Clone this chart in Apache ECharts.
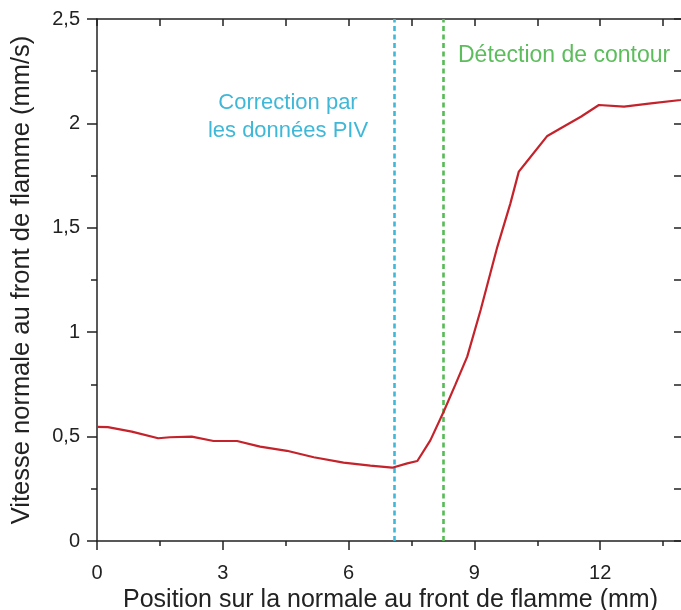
<!DOCTYPE html>
<html>
<head>
<meta charset="utf-8">
<title>Vitesse normale au front de flamme</title>
<script src="https://cdn.jsdelivr.net/npm/echarts@6/dist/echarts.min.js"></script>
<style>
  html, body { margin: 0; padding: 0; background: #fff; }
  #chart { width: 681px; height: 610px; }
</style>
</head>
<body>
<div id="chart"></div>
<script>
// Position along the normal to the flame front (mm)
const positions = [0, 0.26, 0.83, 1.46, 1.74, 2.26, 2.78, 3.34, 3.89, 4.53, 5.17, 5.88, 6.52, 7.04,
  7.40, 7.64, 7.95, 8.27, 8.55, 8.83, 9.15, 9.55, 9.86, 10.06, 10.22, 10.74, 11.06, 11.54, 11.97,
  12.57, 13.21, 13.92, 14];
// Normal velocity at the flame front (mm/s)
const velocities = [0.547, 0.545, 0.524, 0.492, 0.497, 0.500, 0.479, 0.479, 0.452, 0.432, 0.401, 0.375, 0.361, 0.351,
  0.372, 0.383, 0.482, 0.620, 0.750, 0.883, 1.106, 1.410, 1.617, 1.769, 1.809, 1.940, 1.977, 2.032, 2.088,
  2.080, 2.096, 2.112, 2.115];

// Positions of the two flame-front estimates (mm)
const piVCorrection = 7.08;
const contourDetection = 8.25;

const xTicks = { min: 0, max: 14, interval: 3 };
const yTicks = { min: 0, max: 2.5, interval: 0.5 };

const FONT = '"Liberation Sans", Arial, sans-serif';
const AXIS_COLOR = '#222';
const CYAN = '#3fb8d8';
const GREEN = '#55bb55';

const chart = echarts.init(document.getElementById('chart'), null, { renderer: 'canvas' });

const frenchDecimal = v => String(v).replace('.', ',');

const option = {
  backgroundColor: '#fff',
  animation: false,
  textStyle: { fontFamily: FONT },
  // the right-hand frame edge (x = 14) sits just past the canvas border
  grid: { left: 97, top: 19, width: 587, bottom: 69, containLabel: false, outerBoundsMode: 'none' },
  xAxis: [
    {
      type: 'value', position: 'bottom',
      min: xTicks.min, max: xTicks.max, interval: xTicks.interval,
      name: 'Position sur la normale au front de flamme (mm)',
      nameLocation: 'middle', nameGap: 42,
      nameTextStyle: { fontSize: 25, color: AXIS_COLOR, fontFamily: FONT },
      axisLine: { show: true, onZero: false, lineStyle: { color: AXIS_COLOR, width: 1.5 } },
      axisTick: { show: true, inside: false, length: 9, lineStyle: { color: AXIS_COLOR, width: 1.5 } },
      minorTick: { show: true, splitNumber: 2, length: 5, lineStyle: { color: AXIS_COLOR, width: 1.5 } },
      axisLabel: { fontSize: 20, color: AXIS_COLOR, margin: 22, showMaxLabel: false, formatter: frenchDecimal },
      splitLine: { show: false }
    },
    {
      type: 'value', position: 'top',
      min: xTicks.min, max: xTicks.max, interval: xTicks.interval,
      axisLine: { show: true, onZero: false, lineStyle: { color: AXIS_COLOR, width: 1.5 } },
      axisTick: { show: true, inside: true, length: 7, lineStyle: { color: AXIS_COLOR, width: 1.5 } },
      minorTick: { show: true, splitNumber: 2, length: 7, lineStyle: { color: AXIS_COLOR, width: 1.5 } },
      axisLabel: { show: false },
      splitLine: { show: false }
    }
  ],
  yAxis: [
    {
      type: 'value', position: 'left',
      min: yTicks.min, max: yTicks.max, interval: yTicks.interval,
      name: 'Vitesse normale au front de flamme (mm/s)',
      nameLocation: 'middle', nameGap: 62, nameRotate: 90,
      nameTextStyle: { fontSize: 25.5, color: AXIS_COLOR, fontFamily: FONT },
      axisLine: { show: true, onZero: false, lineStyle: { color: AXIS_COLOR, width: 1.5 } },
      axisTick: { show: true, inside: false, length: 10, lineStyle: { color: AXIS_COLOR, width: 1.5 } },
      minorTick: { show: true, splitNumber: 2, length: 6, lineStyle: { color: AXIS_COLOR, width: 1.5 } },
      axisLabel: { fontSize: 20, color: AXIS_COLOR, margin: 17, formatter: frenchDecimal },
      splitLine: { show: false }
    },
    {
      type: 'value', position: 'right',
      min: yTicks.min, max: yTicks.max, interval: yTicks.interval,
      axisLine: { show: true, onZero: false, lineStyle: { color: AXIS_COLOR, width: 1.5 } },
      axisTick: { show: true, inside: true, length: 10, lineStyle: { color: AXIS_COLOR, width: 1.5 } },
      minorTick: { show: true, splitNumber: 2, length: 10, lineStyle: { color: AXIS_COLOR, width: 1.5 } },
      axisLabel: { show: false },
      splitLine: { show: false }
    }
  ],
  series: [
    {
      type: 'line',
      xAxisIndex: 0, yAxisIndex: 0,
      data: positions.map((x, i) => [x, velocities[i]]),
      showSymbol: false,
      smooth: false,
      lineStyle: { color: '#c4232b', width: 2.2 },
      z: 5,
      markLine: {
        silent: true,
        symbol: ['none', 'none'],
        label: { show: false },
        data: [
          { xAxis: piVCorrection, lineStyle: { color: CYAN, width: 2.6, type: [5, 3.5] } },
          { xAxis: contourDetection, lineStyle: { color: GREEN, width: 2.6, type: [5, 3.5] } }
        ]
      }
    }
  ],
  graphic: [
    {
      type: 'text', x: 288, y: 89,
      style: {
        text: 'Correction par\nles données PIV',
        fill: CYAN, font: '22px ' + FONT, align: 'center', verticalAlign: 'top', lineHeight: 28
      }
    },
    {
      type: 'text', x: 458, y: 44,
      style: { text: 'Détection de contour', fill: '#5cbd5c', font: '23px ' + FONT, verticalAlign: 'top' }
    }
  ]
};

chart.setOption(option);
</script>
</body>
</html>
